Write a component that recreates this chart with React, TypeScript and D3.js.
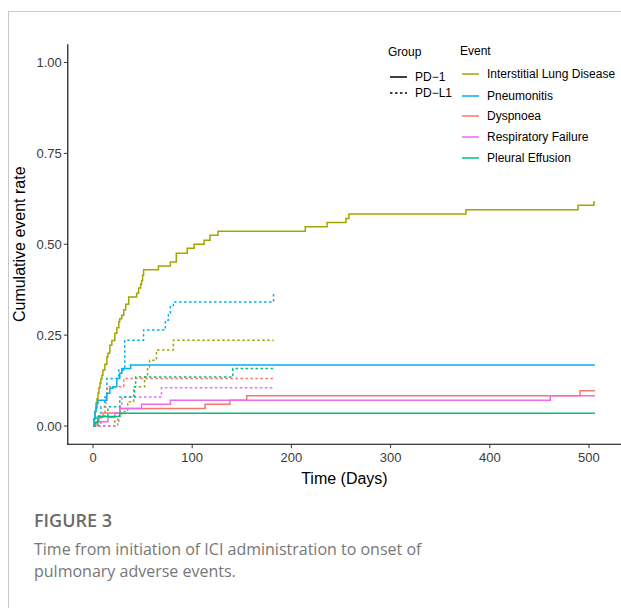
import React from "react";
import * as d3 from "d3";

// ---- Data ----
const events = ["Interstitial Lung Disease", "Pneumonitis", "Dyspnoea", "Respiratory Failure", "Pleural Effusion"];
const groups = ["PD\u22121", "PD\u2212L1"];
const eventColors = ["#A3A500", "#00B0F6", "#F8766D", "#E76BF3", "#00BF7D"];
const xTicks = [0, 100, 200, 300, 400, 500];
const yTicks = [0, 0.25, 0.5, 0.75, 1.0];

const ildPD1: [number, number][] = [[0,0],[1,0.02],[2,0.04],[3,0.063],[4,0.075],[5,0.09],[6,0.105],[7,0.118],[8,0.13],[9,0.14],[10,0.154],[12,0.17],[14,0.19],[15,0.2],[17,0.222],[19,0.235],[22,0.255],[24,0.27],[26,0.287],[27,0.295],[29,0.305],[31,0.32],[33,0.335],[36,0.355],[44,0.365],[46,0.38],[48,0.39],[49,0.4],[50,0.415],[51,0.43],[66,0.44],[78,0.451],[84,0.475],[95,0.489],[102,0.5],[112,0.511],[118,0.525],[126,0.536],[214,0.548],[236,0.56],[255,0.571],[258,0.583],[376,0.595],[489,0.607],[505,0.616],[506,0.616]];
const ildPDL1: [number, number][] = [[0,0],[22,0.013],[26,0.027],[29,0.04],[35,0.067],[41,0.108],[52,0.135],[55,0.16],[57,0.181],[64,0.209],[81,0.236],[182,0.236]];
const pneuPD1: [number, number][] = [[0,0],[1,0.02],[2,0.04],[3,0.05],[4,0.062],[5,0.071],[14,0.09],[17,0.104],[20,0.108],[24,0.131],[27,0.145],[29,0.158],[38,0.168],[506,0.168]];
const pneuPDL1: [number, number][] = [[0,0],[3,0.027],[8,0.053],[12,0.08],[14,0.131],[26,0.154],[32,0.236],[51,0.264],[73,0.291],[76,0.31],[78,0.328],[81,0.341],[182,0.365]];
const dysPD1: [number, number][] = [[0,0],[3,0.012],[6,0.024],[10,0.036],[27,0.048],[113,0.06],[138,0.071],[155,0.083],[491,0.097],[506,0.097]];
const dysPDL1: [number, number][] = [[0,0],[8,0.026],[12,0.052],[13,0.078],[14,0.108],[31,0.131],[182,0.131]];
const rfPD1: [number, number][] = [[0,0],[1,0.012],[15,0.024],[22,0.036],[27,0.048],[49,0.06],[78,0.071],[461,0.083],[506,0.083]];
const rfPDL1: [number, number][] = [[0,0],[25,0.027],[27,0.053],[29,0.08],[69,0.105],[182,0.105]];
const pePD1: [number, number][] = [[0,0],[2,0.009],[5,0.026],[27,0.035],[506,0.035]];
const pePDL1: [number, number][] = [[0,0],[5,0.027],[15,0.053],[27,0.08],[42,0.108],[43,0.135],[141,0.158],[182,0.158]];

const seriesPD1 = [ildPD1, pneuPD1, dysPD1, rfPD1, pePD1];
const seriesPDL1 = [ildPDL1, pneuPDL1, dysPDL1, rfPDL1, pePDL1];

const W = 621, H = 608;

export default function App() {
  const x = d3.scaleLinear().domain([-25.4, 533.4]).range([67.8, 622.1]);
  const y = d3.scaleLinear().domain([-0.05, 1.05]).range([444.2, 44.3]);
  const line = d3.line<[number, number]>().x(d => x(d[0])).y(d => y(d[1])).curve(d3.curveStepAfter);
  const axisFont = "'Liberation Sans', Arial, sans-serif";
  const capFont = "'Open Sans', 'Noto Sans', sans-serif";
  const plotLeft = x(-25.4), plotBottom = y(-0.05), plotTop = y(1.05);
  const legX = 390, evX = 462;
  const evY = [74, 96, 116, 137, 158];
  return (
    <svg width={W} height={H} style={{ position: "absolute", left: 0, top: 0, background: "#fff" }}>
      {/* frame */}
      <line x1={8} y1={11.5} x2={W} y2={11.5} stroke="#c8c8c8" strokeWidth={1} />
      <line x1={8.5} y1={11} x2={8.5} y2={H} stroke="#c8c8c8" strokeWidth={1} />

      {/* series */}
      {seriesPDL1.map((s, i) => (
        <path key={"l" + i} d={line(s) || ""} fill="none" stroke={eventColors[i]} strokeWidth={1.5} strokeDasharray="2.5 2.5" />
      ))}
      {seriesPD1.map((s, i) => (
        <path key={"p" + i} d={line(s) || ""} fill="none" stroke={eventColors[i]} strokeWidth={1.5} />
      ))}

      {/* axes */}
      <line x1={plotLeft} y1={plotTop} x2={plotLeft} y2={plotBottom + 0.5} stroke="#000" strokeWidth={1.1} />
      <line x1={plotLeft - 0.5} y1={plotBottom} x2={W} y2={plotBottom} stroke="#000" strokeWidth={1.1} />
      {yTicks.map(t => (
        <g key={"yt" + t}>
          <line x1={plotLeft - 4} x2={plotLeft} y1={y(t)} y2={y(t)} stroke="#333" strokeWidth={1} />
          <text x={plotLeft - 6} y={y(t)} dy="0.35em" textAnchor="end" fontFamily={axisFont} fontSize={13} fill="#3a3a3a">{t.toFixed(2)}</text>
        </g>
      ))}
      {xTicks.map(t => (
        <g key={"xt" + t}>
          <line x1={x(t)} x2={x(t)} y1={plotBottom} y2={plotBottom + 4} stroke="#333" strokeWidth={1} />
          <text x={x(t)} y={plotBottom + 18} textAnchor="middle" fontFamily={axisFont} fontSize={13} fill="#3a3a3a">{t}</text>
        </g>
      ))}
      <text x={(plotLeft + W) / 2} y={484} textAnchor="middle" fontFamily={axisFont} fontSize={16} fill="#000">Time (Days)</text>
      <text transform={`translate(25,${(plotTop + plotBottom) / 2}) rotate(-90)`} textAnchor="middle" fontFamily={axisFont} fontSize={16} fill="#000">Cumulative event rate</text>

      {/* legend: group */}
      <text x={legX - 2} y={56} fontFamily={axisFont} fontSize={12} fill="#000">Group</text>
      {groups.map((g, i) => (
        <g key={g}>
          <line x1={legX} x2={legX + 17} y1={77 + i * 16} y2={77 + i * 16} stroke="#000" strokeWidth={1.5} strokeDasharray={i === 0 ? undefined : "2.5 2.5"} />
          <text x={legX + 25} y={77 + i * 16} dy="0.35em" fontFamily={axisFont} fontSize={12} fill="#000">{g}</text>
        </g>
      ))}
      {/* legend: event */}
      <text x={evX - 2} y={55} fontFamily={axisFont} fontSize={12} fill="#000">Event</text>
      {events.map((e, i) => (
        <g key={e}>
          <line x1={evX} x2={evX + 17} y1={evY[i]} y2={evY[i]} stroke={eventColors[i]} strokeWidth={1.5} />
          <text x={evX + 25} y={evY[i]} dy="0.35em" fontFamily={axisFont} fontSize={12} fill="#000">{e}</text>
        </g>
      ))}

      {/* caption */}
      <text x={34} y={527} fontFamily={capFont} fontSize={18} fontWeight={600} fill="#6b6b6b">FIGURE 3</text>
      <text x={34} y={555} fontFamily={capFont} fontSize={16} fill="#777">Time from initiation of ICI administration to onset of</text>
      <text x={34} y={577} fontFamily={capFont} fontSize={16} fill="#777">pulmonary adverse events.</text>
    </svg>
  );
}
